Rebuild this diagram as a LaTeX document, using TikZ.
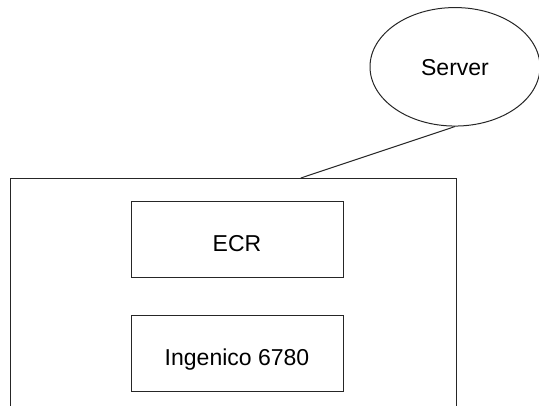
\documentclass[tikz,border=0pt]{standalone}
\usepackage{fontspec}
\setmainfont{Liberation Sans}
\usetikzlibrary{shapes.geometric,calc}
\begin{document}
\begin{tikzpicture}[x=1pt,y=-1pt,
  box/.style={draw=black!85,line width=1pt,rectangle,minimum width=212pt,minimum height=76pt,inner sep=0pt,
    font=\fontsize{23pt}{27pt}\selectfont,text height=25pt,text depth=0pt},
  cloud/.style={draw=black!85,line width=1pt,ellipse,minimum width=170pt,minimum height=118.5pt,inner sep=0pt,
    font=\fontsize{23pt}{27pt}\selectfont,text height=16.5pt,text depth=0pt},
  frame/.style={draw=black!85,line width=1pt,rectangle,inner sep=0pt},
  link/.style={draw=black!85,line width=1pt}]
\useasboundingbox (0,0) rectangle (539,405);
\clip (0,0) rectangle (539,405);
\node[frame,minimum width=446.5pt,minimum height=260pt] (outer) at (233.25,308.5) {};
\node[cloud] (server) at (455,66.8) {Server};
\node[box] (ecr) at (237,239.4) {ECR};
\node[box] (ing) at (237,353.2) {Ingenico 6780};
\draw[link] (server.south) -- ($(outer.north west)!0.651!(outer.north east)$);
\end{tikzpicture}
\end{document}
